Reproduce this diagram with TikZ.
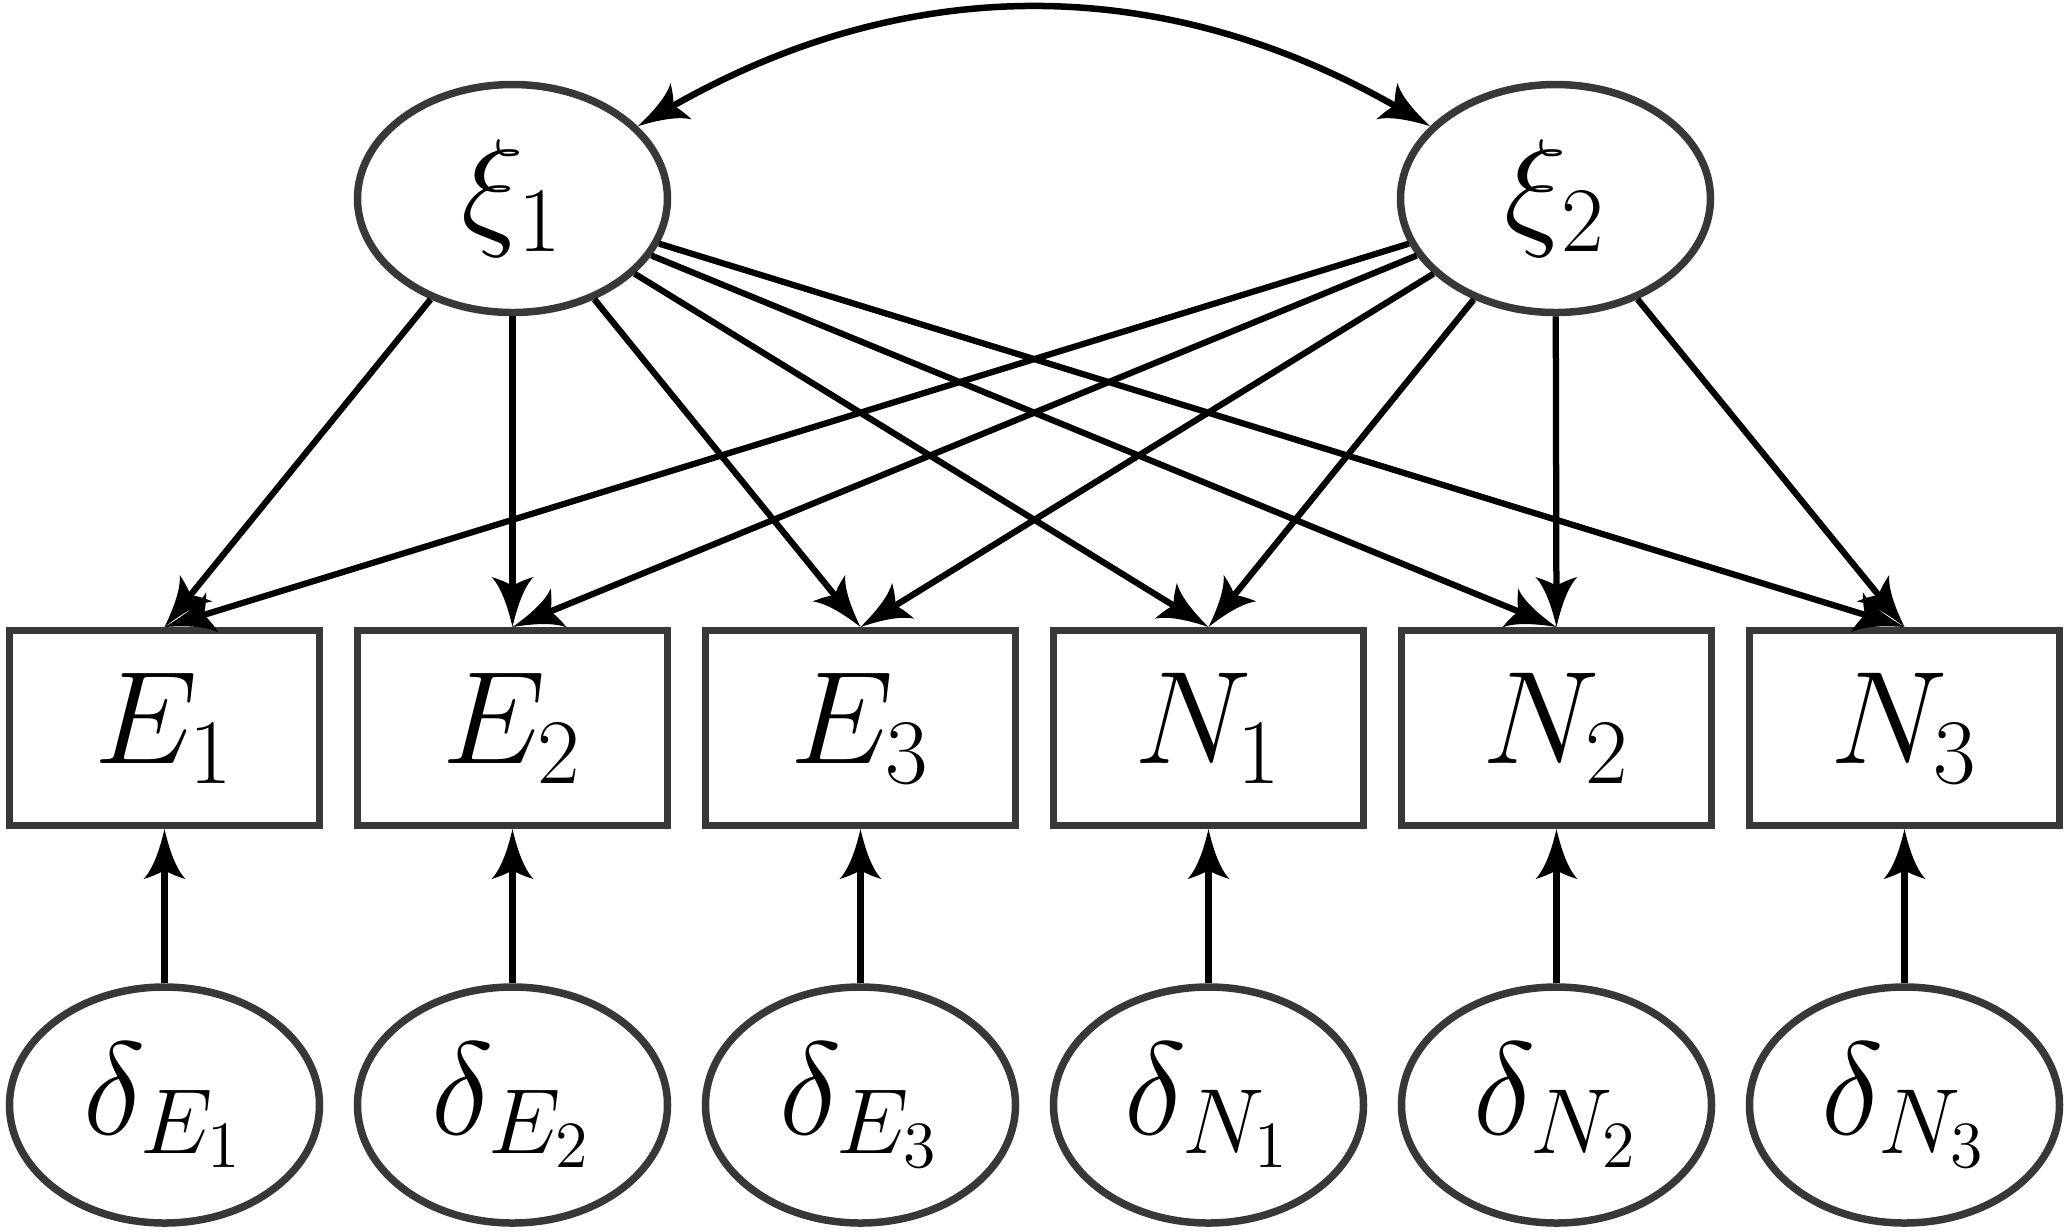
\documentclass[tikz,border=0pt]{standalone}
\usepackage{fix-cm}
\usetikzlibrary{shapes.geometric,arrows.meta}
\pgfdeclarearrow{
  name = Fan,
  parameters = {\the\pgfarrowlength,\the\pgfarrowwidth},
  setup code = {
    \pgfarrowssettipend{0pt}
    \pgfarrowssetbackend{-\pgfarrowlength}
    \pgfarrowssetlineend{-0.7\pgfarrowlength}
    \pgfarrowssavethe\pgfarrowlength
    \pgfarrowssavethe\pgfarrowwidth
  },
  drawing code = {
    \pgfpathmoveto{\pgfpoint{0pt}{0pt}}
    \pgfpathcurveto{\pgfpoint{-0.4\pgfarrowlength}{0.11\pgfarrowwidth}}{\pgfpoint{-0.8\pgfarrowlength}{0.27\pgfarrowwidth}}{\pgfpoint{-\pgfarrowlength}{0.5\pgfarrowwidth}}
    \pgfpathcurveto{\pgfpoint{-0.95\pgfarrowlength}{0.3\pgfarrowwidth}}{\pgfpoint{-0.88\pgfarrowlength}{0.1\pgfarrowwidth}}{\pgfpoint{-0.82\pgfarrowlength}{0pt}}
    \pgfpathcurveto{\pgfpoint{-0.88\pgfarrowlength}{-0.1\pgfarrowwidth}}{\pgfpoint{-0.95\pgfarrowlength}{-0.3\pgfarrowwidth}}{\pgfpoint{-\pgfarrowlength}{-0.5\pgfarrowwidth}}
    \pgfpathcurveto{\pgfpoint{-0.8\pgfarrowlength}{-0.27\pgfarrowwidth}}{\pgfpoint{-0.4\pgfarrowlength}{-0.11\pgfarrowwidth}}{\pgfpoint{0pt}{0pt}}
    \pgfpathclose
    \pgfusepathqfill
  },
  defaults = {length = 10pt, width = 8.4pt}
}
\begin{document}
\begin{tikzpicture}[x=0.2pt,y=0.2pt,
  lbl/.style={font=\fontsize{26.4}{30}\selectfont},
  lat/.style={lbl,ellipse,draw=black!78,line width=1.5pt,minimum width=62pt,minimum height=45.6pt,inner sep=0pt},
  err/.style={lat,minimum height=47.2pt},
  obs/.style={lbl,rectangle,draw=black!78,line width=1.4pt,minimum width=62pt,minimum height=39pt,inner sep=0pt},
  arr/.style={line width=1.25pt,-{Fan[length=10pt,width=8.4pt]}},
  darr/.style={line width=1.3pt,{Fan[length=10pt,width=8.4pt]}-{Fan[length=10pt,width=8.4pt]}},
]
\useasboundingbox (0,0) rectangle (2071,-1231);
\node[lat] (xi1) at (512.5,-198.5) {$\xi_1$};
\node[lat] (xi2) at (1555.5,-198.5) {$\xi_2$};
\node[obs] (e1) at (164.5,-728) {$E_1$};
\node[obs] (e2) at (512.5,-728) {$E_2$};
\node[obs] (e3) at (860.5,-728) {$E_3$};
\node[obs] (n1) at (1208.5,-728) {$N_1$};
\node[obs] (n2) at (1556.5,-728) {$N_2$};
\node[obs] (n3) at (1904.5,-728) {$N_3$};
\node[err] (de1) at (164.5,-1105) {$\delta_{E_1}$};
\node[err] (de2) at (512.5,-1105) {$\delta_{E_2}$};
\node[err] (de3) at (860.5,-1105) {$\delta_{E_3}$};
\node[err] (dn1) at (1208.5,-1105) {$\delta_{N_1}$};
\node[err] (dn2) at (1556.5,-1105) {$\delta_{N_2}$};
\node[err] (dn3) at (1904.5,-1105) {$\delta_{N_3}$};
\draw[darr] (xi1) to[bend left=30] (xi2);
\foreach \t in {e1,e2,e3,n1,n2,n3}{
  \draw[arr] (xi1) -- (\t.north);
  \draw[arr] (xi2) -- (\t.north);
}
\foreach \s/\t in {de1/e1,de2/e2,de3/e3,dn1/n1,dn2/n2,dn3/n3}{
  \draw[arr] (\s) -- (\t);
}
\end{tikzpicture}
\end{document}
